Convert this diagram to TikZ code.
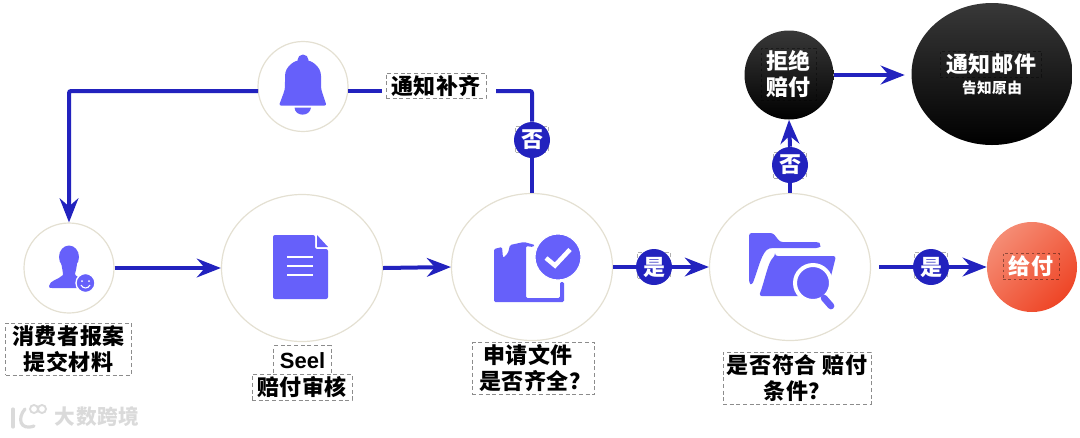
\documentclass[tikz,border=0pt]{standalone}
\usepackage{fontspec}
\setmainfont{Noto Sans CJK SC}[LetterSpace=3]
\newfontfamily\latinfont{Liberation Sans}
\usetikzlibrary{arrows.meta,shapes.geometric}
\definecolor{flowblue}{HTML}{2222BE}
\definecolor{iconblue}{HTML}{6660FA}
\definecolor{ringgrey}{HTML}{E4E0D2}
\definecolor{boxgrey}{HTML}{8C8C8C}
\definecolor{paylight}{HTML}{F58C74}
\definecolor{paydark}{HTML}{EE4526}
\definecolor{markgrey}{HTML}{DADADA}
\tikzset{
  flowline/.style={draw=flowblue,line width=3pt,rounded corners=1.5pt},
  flowarrow/.style={flowline,-{Stealth[length=18pt,width=14pt,inset=6pt]}},
  smallring/.style={circle,draw=ringgrey,line width=0.9pt,fill=white,minimum size=67.5pt,inner sep=0pt},
  bigring/.style={ellipse,draw=ringgrey,line width=0.9pt,fill=white,minimum width=120.75pt,minimum height=110.25pt,inner sep=0pt},
  notebox/.style={draw=boxgrey,dash pattern=on 3pt off 2pt,line width=0.6pt,fill=white,inner sep=0pt,align=center,
    font=\fontsize{16.5}{19.5}\selectfont\bfseries},
  tagmark/.style={draw=boxgrey!70,dash pattern=on 3pt off 2pt,line width=0.4pt,minimum width=24.5pt,minimum height=19.5pt,inner sep=0pt},
  tagdot/.style={circle,fill=flowblue,text=white,minimum size=27pt,inner sep=0pt,
    font=\fontsize{16.5}{19.5}\selectfont\bfseries},
  darkball/.style={top color=black!78,bottom color=black,draw=none,inner sep=0pt},
  darkbox/.style={draw=black,draw opacity=0.4,dash pattern=on 2pt off 2pt,line width=0.4pt,text=white,inner sep=0pt,align=center,
    font=\fontsize{16.5}{19.5}\selectfont\bfseries},
}
\begin{document}
\begin{tikzpicture}[x=0.75pt,y=-0.75pt]
\useasboundingbox (0,0) rectangle (1080,437);

\node[smallring] (user) at (69,268) {};
\node[bigring] (doc) at (302,268) {};
\node[bigring] (check) at (532,267) {};
\node[bigring] (folder) at (790,267) {};
\node[smallring] (bell) at (303,86.5) {};
\node[circle,minimum size=67.5pt,inner sep=0pt,top color=paylight,bottom color=paydark,shading angle=45] (pay) at (1032,267) {};
\node[circle,darkball,minimum size=66.75pt] (reject) at (789,75) {};
\node[ellipse,darkball,minimum width=120.75pt,minimum height=106.5pt] (mail) at (992,74) {};

\node[tagmark] at (654,265) {};
\node[tagmark] at (931,265) {};
\node[tagmark] at (532,139) {};
\node[tagmark] at (790,165) {};
\node[tagdot] (yesfile) at (654,267) {是};
\node[tagdot] (yespay) at (931,267) {是};
\node[tagdot] (nofile) at (532,140) {否};
\node[tagdot] (nopay) at (790,165) {否};

\node[notebox,minimum width=75pt,minimum height=19pt] (refill) at (436,86) {通知补齐};
\coordinate (refillright) at (496,91);
\coordinate (refillleft) at (382,91);
\coordinate (bellright) at (348,91);
\coordinate (bellleft) at (258,91);

\draw[flowarrow] (user.east) -- (doc.west);
\draw[flowarrow] (doc.east) -- (check.west);
\draw[flowline] (check.east) -- (yesfile.west);
\draw[flowarrow] (yesfile.east) -- (folder.west);
\draw[flowline,shorten <=6pt] (folder.east) -- (yespay.west);
\draw[flowarrow] (yespay.east) -- (pay.west);
\draw[flowline] (folder.north) -- (nopay.south);
\draw[flowarrow] (nopay.north) -- (reject.south);
\draw[flowarrow] (reject.east) -- ++(71,0);
\draw[flowline] (check.north) -- (nofile.south);
\draw[flowline] (nofile.north) |- (refillright);
\draw[flowline] (refillleft) -- (bellright);
\draw[flowarrow] (bellleft) -| (user.north);

\node[notebox,minimum width=94pt,minimum height=39pt] (userlabel) at (68.5,349) {消费者报案\\提交材料};
\node[notebox,minimum width=43pt,minimum height=22pt,font=\fontsize{16.5}{19.5}\selectfont\bfseries\latinfont] (seellabel) at (302.5,360.5) {Seel};
\node[notebox,minimum width=75pt,minimum height=19pt] (reviewlabel) at (302,387.5) {赔付审核};
\node[notebox,minimum width=92pt,minimum height=38.5pt] (filelabel) at (533.5,368.5) {申请文件\,\,\,\\\,是否齐全？};
\node[notebox,minimum width=111pt,minimum height=39pt] (condlabel) at (797,378) {是否符合 赔付\\条件？};

\node[darkbox,minimum width=42pt,minimum height=19.5pt] (paylabel) at (1031,266) {给付};
\node[darkbox,minimum width=41pt,minimum height=39pt] (rejectlabel) at (788.5,74.5) {拒绝\\赔付};
\node[darkbox,minimum width=76pt,minimum height=19.5pt] (maillabel) at (991,64) {通知邮件};
\node[text=white,inner sep=0pt,font=\fontsize{11}{13}\selectfont\bfseries] (mailnote) at (992,88) {告知原由};

% user icon
\fill[iconblue] (69,257) ellipse (10 and 11.5);
\fill[iconblue] (61,262) .. controls (62,268) and (63,272) .. (63,275) .. controls (58,280) and (50,280) .. (49,286)
  .. controls (49,288) and (50,288) .. (52,288) -- (84,288) -- (84,280) .. controls (80,278) and (75,276) .. (75,274) .. controls (76,270) and (77,266) .. (77,262) -- cycle;
\fill[iconblue,draw=white,line width=1pt] (85.5,283) circle (9.5);
\fill[white] (82,281) circle (1) (89,281) circle (1);
\draw[white,line width=0.8pt] (81,285) .. controls (83,289) and (88,289) .. (90,285);

% doc icon
\fill[iconblue,rounded corners=1.5pt] (273,235) -- (315,235) -- (315,249) -- (328,249) -- (328,299) -- (273,299) -- cycle;
\fill[iconblue] (317,235) -- (328,247) -- (317,247) -- cycle;
\draw[white,line width=2pt] (287,257) -- (313,257) (287,266) -- (313,266) (287,275) -- (313,275);

% bell icon
\fill[iconblue] (303,60) circle (5.5);
\fill[iconblue,rounded corners=1.5pt] (279,105.5) -- (284,92) .. controls (285,88) and (285,84) .. (285,78) .. controls (285,66) and (295,60) .. (303,60)
  .. controls (311,60) and (321,66) .. (321,78) .. controls (321,84) and (321,88) .. (322,92) -- (326.5,105.5) -- cycle;
\fill[iconblue] (294.5,107.5) .. controls (295,117) and (310,117) .. (311,107.5) -- cycle;

% file check icon
\fill[iconblue,rounded corners=1pt] (494,249) -- (502,247) -- (503,258) -- (508,253) -- (510,245) -- (524,242) -- (535,245) -- (533,247) -- (526,246) -- (526,298) -- (560,298) -- (560,282) -- (564,282) -- (564,302) -- (494,302) -- cycle;
\fill[iconblue,draw=white,line width=0.8pt] (558,257) circle (23);
\draw[white,line width=3.4pt] (546,258) -- (555,265.5) -- (570,249.5);

% folder icon
\fill[iconblue,rounded corners=2pt] (749,233) -- (773,233) -- (780,242) -- (817,242) .. controls (820,243) and (820,247) .. (819,248) -- (772,248) .. controls (762,250) and (758,270) .. (752,285) -- (749,283) -- cycle;
\fill[iconblue,rounded corners=2pt] (775,256) -- (836,256) -- (830,280) -- (815,296) -- (759,296) .. controls (765,280) and (768,262) .. (775,256) -- cycle;
\fill[iconblue,draw=white,line width=3pt] (813,283) circle (18);
\draw[iconblue,line width=5pt,line cap=round] (824,298) -- (831,306);

% watermark
\node[text=markgrey,inner sep=0pt,font=\fontsize{15.5}{19}\selectfont\bfseries] (marktext) at (97,417) {大数跨境};
\draw[markgrey,line width=2.4pt,line cap=round] (13,409) -- (13,427);
\draw[markgrey,line width=2.4pt,line cap=round] (25,409) .. controls (17,418) and (20,431) .. (34,426);
\draw[markgrey,line width=1.4pt] (34,409) circle (4) (42,409) circle (4);
\end{tikzpicture}
\end{document}
